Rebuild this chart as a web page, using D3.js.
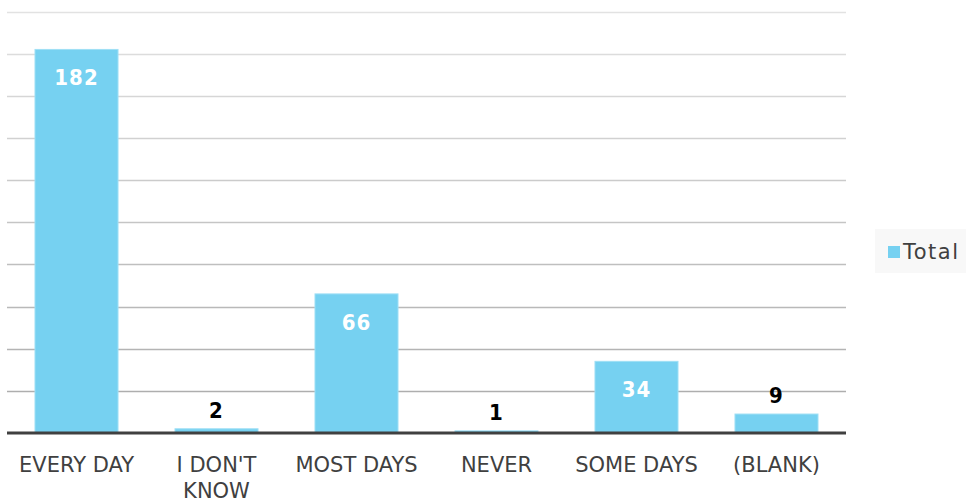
<!DOCTYPE html>
<html>
<head>
<meta charset="utf-8">
<script src="https://cdn.jsdelivr.net/npm/d3@7/dist/d3.min.js"></script>
<style>
  html, body { margin: 0; padding: 0; background: #fff; }
  svg { display: block; font-family: "DejaVu Sans", sans-serif; }
</style>
</head>
<body>
<svg id="chart" width="966" height="504"></svg>
<script>
// Responses per category
const categories = ["EVERY DAY", "I DON'T KNOW", "MOST DAYS", "NEVER", "SOME DAYS", "(BLANK)"];
const totals = [182, 2, 66, 1, 34, 9];
const yTicks = [0, 20, 40, 60, 80, 100, 120, 140, 160, 180, 200];
const seriesName = "Total";

const svg = d3.select("#chart");
const plot = { left: 7, right: 846, top: 11.5, bottom: 433 };

const x = d3.scaleBand()
  .domain(categories)
  .range([plot.left, plot.right])
  .paddingInner(0.407)
  .paddingOuter(0.2);

const y = d3.scaleLinear()
  .domain([0, 200])
  .range([plot.bottom, plot.top]);

// Horizontal gridlines, fading toward the top
const shade = d3.scaleLinear().domain([0, 200]).range(["#a8a8a8", "#e2e2e2"]);
svg.append("g")
  .selectAll("line")
  .data(yTicks.filter(d => d > 0))
  .join("line")
  .attr("x1", plot.left)
  .attr("x2", plot.right)
  .attr("y1", d => Math.round(y(d)) + 0.5)
  .attr("y2", d => Math.round(y(d)) + 0.5)
  .attr("stroke", d => shade(d))
  .attr("stroke-width", 1.5);

// Bars
svg.append("g")
  .selectAll("rect")
  .data(categories)
  .join("rect")
  .attr("x", d => x(d))
  .attr("y", (d, i) => y(totals[i]))
  .attr("width", x.bandwidth())
  .attr("height", (d, i) => plot.bottom - y(totals[i]))
  .attr("fill", "#76d1f1")
  .attr("stroke", "#9fdff5")
  .attr("stroke-width", 1);

// Baseline
svg.append("line")
  .attr("x1", plot.left)
  .attr("x2", plot.right)
  .attr("y1", plot.bottom)
  .attr("y2", plot.bottom)
  .attr("stroke", "#404040")
  .attr("stroke-width", 3);

// Value labels: inside tall bars, above short ones
svg.append("g")
  .selectAll("text")
  .data(categories)
  .join("text")
  .attr("x", d => x(d) + x.bandwidth() / 2)
  .attr("y", (d, i) => {
    const v = totals[i];
    return v >= 20 ? y(v) + 36 : y(v) - 11;
  })
  .attr("text-anchor", "middle")
  .attr("font-family", "\"DejaVu Sans Condensed\", \"DejaVu Sans\", sans-serif")
  .attr("font-size", 22)
  .attr("font-weight", "bold")
  .attr("letter-spacing", 1)
  .attr("fill", (d, i) => totals[i] >= 20 ? "#ffffff" : "#000000")
  .text((d, i) => totals[i]);

// Category axis labels
const xAxis = d3.axisBottom(x).tickSize(0).tickPadding(0);
const gx = svg.append("g")
  .attr("transform", `translate(0,${plot.bottom})`)
  .call(xAxis);
gx.select(".domain").remove();
gx.attr("font-family", null).attr("font-size", null);
gx.selectAll("text")
  .attr("font-size", 21)
  .attr("fill", "#404040")
  .each(function(d) {
    const t = d3.select(this);
    const words = d === "I DON'T KNOW" ? ["I DON'T", "KNOW"] : [d];
    t.text(null).attr("y", 0).attr("dy", null);
    words.forEach((w, i) => {
      t.append("tspan")
        .attr("x", 0)
        .attr("y", 39 + i * 26)
        .text(w);
    });
  });

// Legend
const legend = svg.append("g");
legend.append("rect")
  .attr("x", 875).attr("y", 229)
  .attr("width", 91).attr("height", 44)
  .attr("fill", "#f8f8f8");
legend.append("rect")
  .attr("x", 888).attr("y", 246)
  .attr("width", 12).attr("height", 12)
  .attr("fill", "#76d1f1");
legend.append("text")
  .attr("x", 903).attr("y", 259)
  .attr("font-size", 21)
  .attr("letter-spacing", 1.5)
  .attr("fill", "#404040")
  .text(seriesName);
</script>
</body>
</html>
